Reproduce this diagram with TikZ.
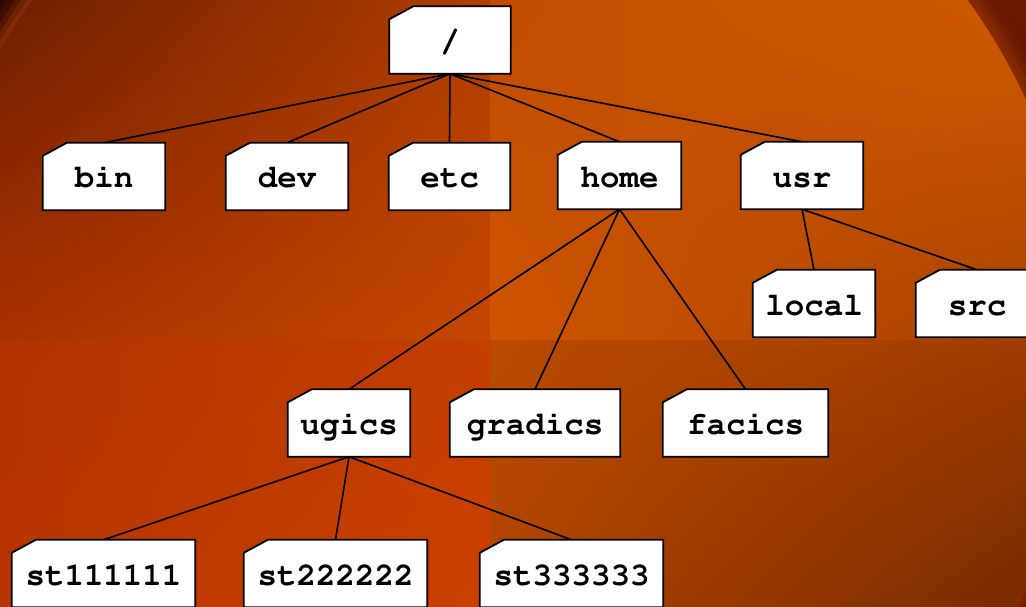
\documentclass[tikz,border=0pt]{standalone}
\usepackage{fontspec}
\setmonofont{Liberation Mono}
\usetikzlibrary{shadings}
\pgfdeclarelayer{bgl}\pgfdeclarelayer{edgel}\pgfdeclarelayer{boxl}
\pgfsetlayers{bgl,edgel,boxl,main}
\definecolor{outUL}{HTML}{2E0A00}
\definecolor{outUR}{HTML}{6A1A00}
\definecolor{outLL}{HTML}{5A1600}
\definecolor{outLR}{HTML}{4A1200}
\definecolor{aUL}{RGB}{110,30,0}\definecolor{aUR}{RGB}{176,62,0}\definecolor{aLL}{RGB}{170,50,0}\definecolor{aLR}{RGB}{196,70,0}
\definecolor{bUL}{RGB}{192,76,0}\definecolor{bUR}{RGB}{208,90,0}\definecolor{bLL}{RGB}{206,84,0}\definecolor{bLR}{RGB}{168,66,0}
\definecolor{cUL}{RGB}{176,52,0}\definecolor{cUR}{RGB}{196,62,0}\definecolor{cLL}{RGB}{184,52,0}\definecolor{cLR}{RGB}{204,64,0}
\definecolor{dUL}{RGB}{184,74,0}\definecolor{dUR}{RGB}{160,60,0}\definecolor{dLL}{RGB}{176,68,0}\definecolor{dLR}{RGB}{120,42,0}
\definecolor{rim}{RGB}{140,44,0}
\tikzset{
  lbl/.style={minimum height=67pt, inner sep=0pt, text height=29pt, text depth=6pt,
    font=\fontsize{32.5}{33}\fontencoding{T1}\fontfamily{pcr}\fontseries{b}\selectfont, text=black},
  boxline/.style={draw=black, fill=white, line width=1.8pt, line join=miter},
  edge/.style={draw=black, line width=1.6pt}
}
\newcommand\fold[5]{%
  \node[lbl, minimum width=#4pt] (#1) at (#2,#3) {#5};
  \begin{pgfonlayer}{boxl}
  \draw[boxline] (#1.south west) -- ([yshift=-13pt]#1.north west) -- ([xshift=24pt]#1.north west) -- (#1.north east) -- (#1.south east) -- cycle;
  \end{pgfonlayer}}
\begin{document}
\begin{tikzpicture}[x=1pt,y=-1pt]
\useasboundingbox (0,0) rectangle (1026,607);
\begin{pgfonlayer}{bgl}
\clip (0,0) rectangle (1026,607);
\shade[upper left=outUL, upper right=outUR, lower left=outLL, lower right=outLR] (0,0) rectangle (1026,607);
\foreach \r/\o in {598/0.15,592/0.3,587/0.5,582/0.75}{
  \fill[fill=rim, opacity=\o] (500,340) circle (\r pt);}
\begin{scope}
\clip (500,340) circle (578pt);
\shade[upper left=aUL, upper right=aUR, lower left=aLL, lower right=aLR] (0,0) rectangle (490,340);
\shade[upper left=bUL, upper right=bUR, lower left=bLL, lower right=bLR] (490,0) rectangle (1026,340);
\shade[upper left=cUL, upper right=cUR, lower left=cLL, lower right=cLR] (0,340) rectangle (490,607);
\shade[upper left=dUL, upper right=dUR, lower left=dLL, lower right=dLR] (490,340) rectangle (1026,607);
\end{scope}
\end{pgfonlayer}

\fold{root}{450}{40}{121}{/}
\fold{bin}{104}{176.5}{122}{bin}
\fold{dev}{287}{176.5}{122}{dev}
\fold{etc}{449.5}{176.5}{121}{etc}
\fold{home}{619.5}{175.5}{123}{home}
\fold{usr}{802}{175.5}{122}{usr}
\fold{local}{814}{303.5}{122}{local}
\fold{src}{977}{303.5}{122}{src}
\fold{ugics}{349}{423}{122}{ugics}
\fold{gradics}{535}{423}{170}{gradics}
\fold{facics}{745.5}{423}{165}{facics}
\fold{s1}{103.5}{573.5}{183}{st111111}
\fold{s2}{335.5}{573.5}{183}{st222222}
\fold{s3}{571.5}{573.5}{183}{st333333}

\begin{pgfonlayer}{edgel}
\foreach \c in {bin,dev,etc,home,usr}{\draw[edge] (root.south) -- (\c.north);}
\foreach \c in {ugics,gradics,facics}{\draw[edge] (home.south) -- (\c.north);}
\foreach \c in {local,src}{\draw[edge] (usr.south) -- (\c.north);}
\foreach \c in {s1,s2,s3}{\draw[edge] (ugics.south) -- (\c.north);}
\end{pgfonlayer}
\end{tikzpicture}
\end{document}
